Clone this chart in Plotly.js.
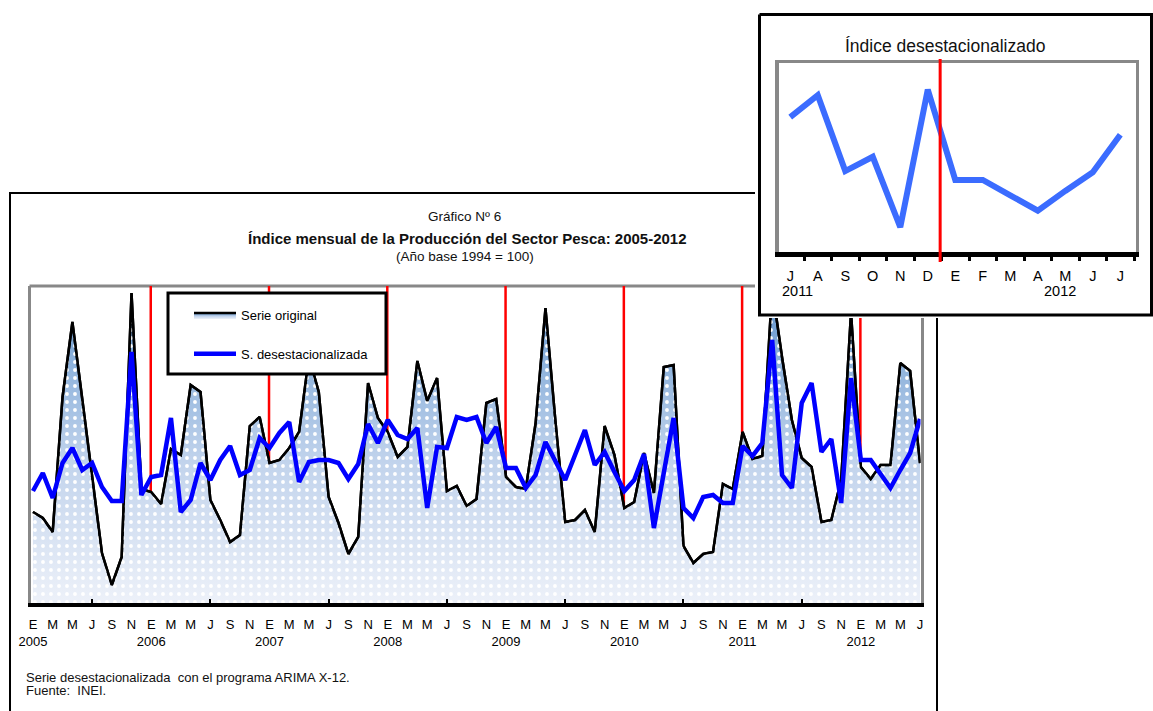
<!DOCTYPE html>
<html>
<head>
<meta charset="utf-8">
<script src="https://cdn.plot.ly/plotly-3.0.1.min.js"></script>
<style>
html,body{margin:0;padding:0;background:#fff;}
#chart{width:1153px;height:711px;}
</style>
</head>
<body>
<div id="chart"></div>
<script>
// ---- data (Jan 2005 .. Jul 2012, monthly) ----
const monthInitials = ['E','F','M','A','M','J','J','A','S','O','N','D'];
const years = [2005, 2006, 2007, 2008, 2009, 2010, 2011, 2012];
const serieOriginal = [91,85,71,206,281,203,123,50,18,46,
  310,114,111,99,154,148,218,211,103,83,
  61,68,177,186,140,143,155,171,246,211,
  106,80,49,66,220,185,171,146,156,242,
  202,225,112,117,97,104,200,204,126,116,
  114,180,295,183,81,83,93,71,177,148,
  95,101,150,110,236,238,57,40,49,51,
  119,114,171,144,147,315,246,183,145,136,
  81,83,123,291,136,124,138,138,240,232,
  140];
const serieDesest = [112,130,105,140,155,133,140,116,102,102,
  251,108,126,128,185,91,103,140,123,143,
  157,128,133,165,155,170,181,121,141,143,
  143,140,124,139,179,160,183,168,164,175,
  95,156,155,186,183,186,160,176,135,135,
  115,128,161,141,123,148,173,138,151,131,
  112,123,149,75,130,185,95,85,106,108,
  100,100,157,147,160,263,128,115,200,220,
  151,164,100,225,143,143,129,115,133,150,
  184];
const insetStart = 78; // Jul 2011

// ---- derived ----
const W = 1153, H = 711;
const px = v => v / W, py = v => 1 - v / H;
const idx = serieOriginal.map((_, i) => i);
const tickvals = [], ticktext = [];
idx.forEach(i => {
  if (i % 2 === 0) {
    tickvals.push(i);
    const m = monthInitials[i % 12];
    ticktext.push(i % 12 === 0 ? m + '<br>' + years[Math.floor(i / 12)] : m);
  }
});
const julyTicks = idx.filter(i => i % 12 === 6);
const insetVals = serieDesest.slice(insetStart);
const insetIdx = insetVals.map((_, j) => j);
const insetText = insetIdx.map(j => monthInitials[(insetStart + j) % 12]);
const insetBounds = insetIdx.map(j => j + 0.5);

const arial = 'Liberation Sans, Arial, sans-serif';

const traces = [
  { // gradient area + legend
    x: idx, y: serieOriginal, type: 'scatter', mode: 'lines', name: 'Serie original',
    legendgroup: 'a', fill: 'tozeroy',
    fillgradient: { type: 'vertical', start: 0, stop: 317,
      colorscale: [[0, '#edf1f9'], [0.45, '#c1d3ec'], [0.75, '#8fb3dc'], [1, '#5a8fca']] },
    line: { color: '#000', width: 2.5 }, xaxis: 'x', yaxis: 'y', hoverinfo: 'skip'
  },
  { // dotted texture
    x: idx, y: serieOriginal, type: 'scatter', mode: 'lines', fill: 'tozeroy',
    fillpattern: { shape: '.', fgcolor: '#ffffff', bgcolor: 'rgba(0,0,0,0)', size: 8, solidity: 0.18 },
    line: { width: 0, color: 'rgba(0,0,0,0)' }, showlegend: false, xaxis: 'x', yaxis: 'y', hoverinfo: 'skip'
  },
  { // outline on top
    x: idx, y: serieOriginal, type: 'scatter', mode: 'lines',
    line: { color: '#000', width: 2.5 }, showlegend: false, xaxis: 'x', yaxis: 'y', hoverinfo: 'skip'
  },
  {
    x: idx, y: serieDesest, type: 'scatter', mode: 'lines', name: 'S. desestacionalizada',
    legendgroup: 'b', line: { color: '#0000ff', width: 4.5 }, xaxis: 'x', yaxis: 'y'
  },
  { // anchor for the overlay tick axis of the main chart
    x: [0], y: [null], type: 'scatter', mode: 'lines', showlegend: false, xaxis: 'x4', yaxis: 'y', hoverinfo: 'skip'
  },
  { // inset white box
    x: [759.5, 1151.5, 1151.5, 759.5, 759.5], y: [14.5, 14.5, 315, 315, 14.5],
    type: 'scatter', mode: 'lines', fill: 'toself', fillcolor: '#ffffff',
    line: { color: '#000', width: 3 }, showlegend: false, xaxis: 'x2', yaxis: 'y2', hoverinfo: 'skip'
  },
  { // inset line
    x: insetIdx, y: insetVals, type: 'scatter', mode: 'lines',
    line: { color: '#3b6cff', width: 6 }, showlegend: false, xaxis: 'x3', yaxis: 'y3'
  },
  { // anchor for the overlay tick axis of the inset
    x: [0], y: [null], type: 'scatter', mode: 'lines', showlegend: false, xaxis: 'x5', yaxis: 'y3', hoverinfo: 'skip'
  }
];

const shapes = [];
// outer frame of main chart
shapes.push({ type: 'rect', xref: 'paper', yref: 'paper', x0: px(10), x1: px(937), y0: -0.02, y1: py(193),
  line: { color: '#000', width: 2 }, layer: 'below' });
// top gray border of plot
shapes.push({ type: 'line', xref: 'paper', yref: 'paper', x0: px(29.5), x1: px(922), y0: py(286), y1: py(286),
  line: { color: '#888', width: 3 }, layer: 'below' });
// red year separators (main)
years.slice(1).forEach((yr, k) => {
  const xv = 12 * (k + 1) - 0.05;
  shapes.push({ type: 'line', xref: 'x', yref: 'paper', x0: xv, x1: xv, y0: py(603), y1: py(286),
    line: { color: '#ff0000', width: 2.5 }, layer: 'below' });
});
// legend frame
shapes.push({ type: 'rect', xref: 'paper', yref: 'paper', x0: px(168), x1: px(386), y0: py(374), y1: py(293),
  fillcolor: '#ffffff', line: { color: '#000', width: 3 }, layer: 'above' });
// red separator in inset
shapes.push({ type: 'line', xref: 'x3', yref: 'paper', x0: 5.45, x1: 5.45, y0: py(262), y1: py(59),
  line: { color: '#ff0000', width: 3 }, layer: 'above' });

const ann = (text, x, y, size, extra) => Object.assign({ text: text, x: px(x), y: py(y), xref: 'paper', yref: 'paper',
  xanchor: 'center', yanchor: 'middle', showarrow: false, font: { family: arial, size: size, color: '#111' } }, extra || {});

const annotations = [
  ann('Gráfico Nº 6', 464, 216, 13.5),
  ann('Índice mensual de la Producción del Sector Pesca: 2005-2012', 467, 238, 15,
    { font: { family: arial, size: 15, color: '#111', weight: 'bold' } }),
  ann('(Año base 1994 = 100)', 465, 257, 13.5),
  ann('Serie desestacionalizada  con el programa ARIMA X-12.', 24, 677, 13, { xanchor: 'left' }),
  ann('Fuente:  INEI.', 24, 690, 13, { xanchor: 'left' }),
  ann('Índice desestacionalizado', 945, 46, 17.5),
  ann(String(years[6]), 797, 291, 14.5, { font: { family: arial, size: 14.5, color: '#000' } }),
  ann(String(years[7]), 1060, 291, 14.5, { font: { family: arial, size: 14.5, color: '#000' } })
];

const layout = {
  width: W, height: H, margin: { l: 0, r: 0, t: 0, b: 0 },
  paper_bgcolor: '#fff', plot_bgcolor: '#fff', showlegend: true,
  legend: { x: px(189), y: py(300), xanchor: 'left', yanchor: 'top', bgcolor: 'rgba(0,0,0,0)',
    borderwidth: 0, font: { family: arial, size: 13, color: '#000' },
    itemwidth: 42, traceorder: 'grouped', tracegroupgap: 19 },
  xaxis: { domain: [px(31), px(920.5)], range: [-0.2, 90.05], anchor: 'y',
    tickvals: tickvals, ticktext: ticktext, ticks: '', tickangle: 0, showgrid: false, zeroline: false,
    showline: true, linecolor: '#000', linewidth: 4,
    tickfont: { family: arial, size: 13, color: '#000' }, ticklabelstandoff: 6 },
  yaxis: { domain: [py(603), py(286)], range: [0, 317], anchor: 'x', showticklabels: false,
    ticks: '', showgrid: false, zeroline: false, showline: true, mirror: true, linecolor: '#888', linewidth: 3 },
  xaxis4: { overlaying: 'x', anchor: 'y', range: [-0.2, 90.05], tickvals: julyTicks, ticks: 'inside',
    ticklen: 4, tickwidth: 2, tickcolor: '#000', showticklabels: false, showgrid: false, zeroline: false, showline: false },
  xaxis2: { domain: [px(755), 1], range: [755, 1153], anchor: 'y2', visible: false },
  yaxis2: { domain: [py(318), py(11)], range: [318, 11], anchor: 'x2', visible: false },
  xaxis3: { domain: [px(778.7), px(1135.7)], range: [-0.42, 12.56], anchor: 'y3',
    tickvals: insetIdx, ticktext: insetText, ticks: '', tickangle: 0, showgrid: false, zeroline: false,
    showline: true, mirror: true, linecolor: '#888', linewidth: 3.5,
    tickfont: { family: arial, size: 14.5, color: '#000' }, ticklabelstandoff: 8 },
  yaxis3: { domain: [py(252), py(63.3)], range: [77.5, 249], anchor: 'x3', showticklabels: false,
    ticks: '', showgrid: false, zeroline: false, showline: true, mirror: true, linecolor: '#888', linewidth: 3.5 },
  xaxis5: { overlaying: 'x3', anchor: 'y3', range: [-0.42, 12.56], tickvals: insetBounds, ticks: 'outside',
    ticklen: 4, tickwidth: 3, tickcolor: '#000', showticklabels: false, showgrid: false, zeroline: false,
    showline: true, linecolor: '#000', linewidth: 4.5 },
  shapes: shapes, annotations: annotations
};

Plotly.newPlot('chart', traces, layout, { staticPlot: true, displayModeBar: false });
</script>
</body>
</html>
